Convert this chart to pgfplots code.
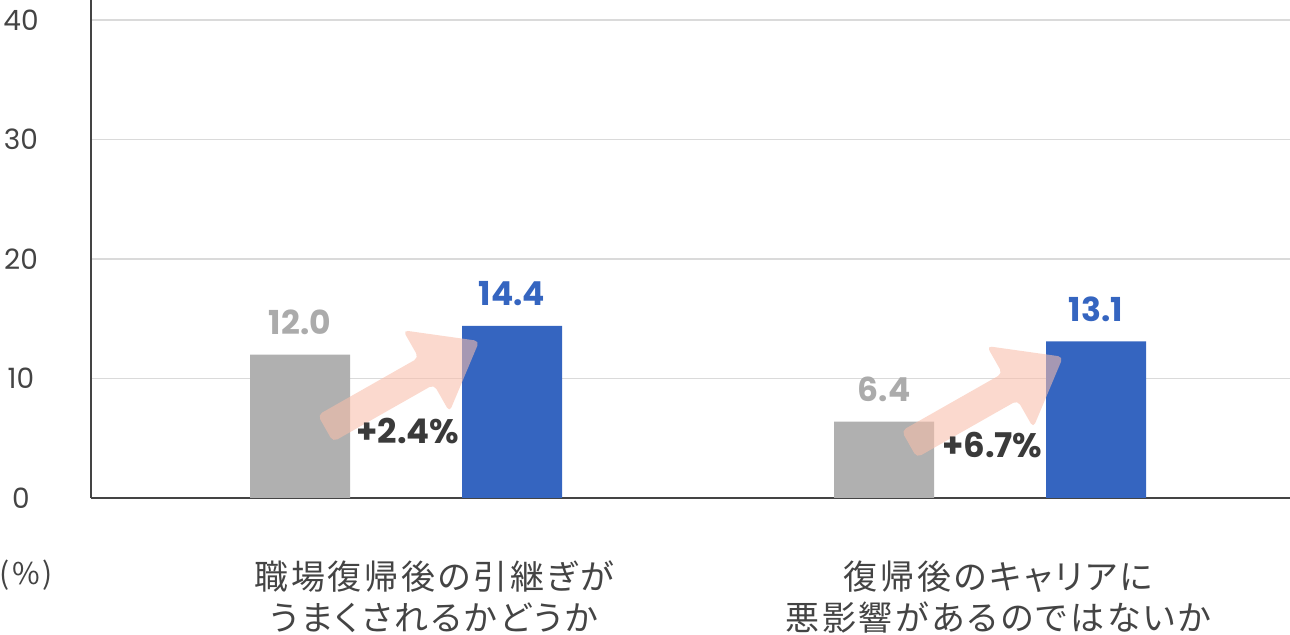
\documentclass[border=0pt]{standalone}
\usepackage{pgfplots}
\pgfplotsset{compat=1.18}
\usepackage{fontspec}
\setmainfont{Poppins}
\newfontfamily\jp{Noto Sans CJK JP}[RawFeature=+palt, LetterSpace=8]
\newfontfamily\jpn{Noto Sans CJK JP}
\definecolor{barblue}{HTML}{3565C0}
\definecolor{bargray}{HTML}{B0B0B0}
\definecolor{lblgray}{HTML}{ABABAB}
\definecolor{darktxt}{HTML}{3A3A3A}
\definecolor{axiscol}{HTML}{444444}
\definecolor{gridcol}{HTML}{DADADA}
\definecolor{arrowcol}{HTML}{F8BEAA}
\begin{document}
\begin{tikzpicture}
\begin{axis}[
  at={(0,0)}, anchor=south west,
  scale only axis, width=599.5pt, height=249pt,
  xmin=-0.5394, xmax=1.5137, ymin=0, ymax=41.67,
  axis x line*=bottom, axis y line*=left,
  axis line style={axiscol, line width=1pt},
  ytick={0,10,20,30,40},
  ymajorgrids, grid style={gridcol, line width=0.8pt},
  major tick length=0pt,
  /pgf/number format/assume math mode=true,
  yticklabel style={anchor=center, xshift=-35pt, font=\fontsize{14}{16}\selectfont, text=axiscol},
  xtick={0.048,1.014},
  xticklabels={{職場復帰後の引継ぎが\\うまくされるかどうか},{復帰後のキャリアに\\悪影響があるのではないか}},
  xticklabel style={align=center, font=\jp\fontsize{17}{20.5}\selectfont, text=axiscol, anchor=center, yshift=-49.5pt},
  clip=false,
]
\addplot[ybar, bar width=50pt, bar shift=-53pt, fill=bargray, draw=none,
  nodes near coords, point meta=explicit symbolic,
  nodes near coords style={anchor=base, inner sep=0pt, xshift=-53pt, yshift=10pt, font=\bfseries\fontsize{16.5}{18}\selectfont, text=lblgray}]
  coordinates {(0,12.0)[12.0] (1,6.4)[6.4]};
\addplot[ybar, bar width=50pt, bar shift=53pt, fill=barblue, draw=none,
  nodes near coords, point meta=explicit symbolic,
  nodes near coords style={anchor=base, inner sep=0pt, xshift=53pt, yshift=10pt, font=\bfseries\fontsize{16.5}{18}\selectfont, text=barblue}]
  coordinates {(0,14.4)[14.4] (1,13.1)[13.1]};
\fill[arrowcol, opacity=0.58, rounded corners=2.5pt, shift={(axis cs:-0.138,5.82)}, rotate=29.6]
  (0pt,-7.7pt) -- (58pt,-7.7pt) -- (58pt,-23.5pt) -- (88.5pt,0pt) -- (58pt,23.5pt) -- (58pt,7.7pt) -- (0pt,7.7pt) -- cycle;
\fill[arrowcol, opacity=0.58, rounded corners=2.5pt, shift={(axis cs:0.8616,4.50)}, rotate=29.6]
  (0pt,-7.7pt) -- (58pt,-7.7pt) -- (58pt,-23.5pt) -- (88.5pt,0pt) -- (58pt,23.5pt) -- (58pt,7.7pt) -- (0pt,7.7pt) -- cycle;
\node[anchor=base, inner sep=0pt, font=\bfseries\fontsize{17}{19}\selectfont, text=darktxt] at (axis cs:0.0034,4.6) {+2.4\%};
\node[anchor=base, inner sep=0pt, font=\bfseries\fontsize{17}{19}\selectfont, text=darktxt] at (axis cs:1.004,3.35) {+6.7\%};
\end{axis}
\node[inner sep=0pt, font=\jpn\fontsize{15}{17}\selectfont, text=axiscol] at (-32.5pt,-38.5pt) {(\hspace{1.2pt}\%\hspace{1.2pt})};
\pgfresetboundingbox
\path[use as bounding box] (-45.5pt,-68.5pt) rectangle (599.5pt,249pt);
\end{tikzpicture}
\end{document}
